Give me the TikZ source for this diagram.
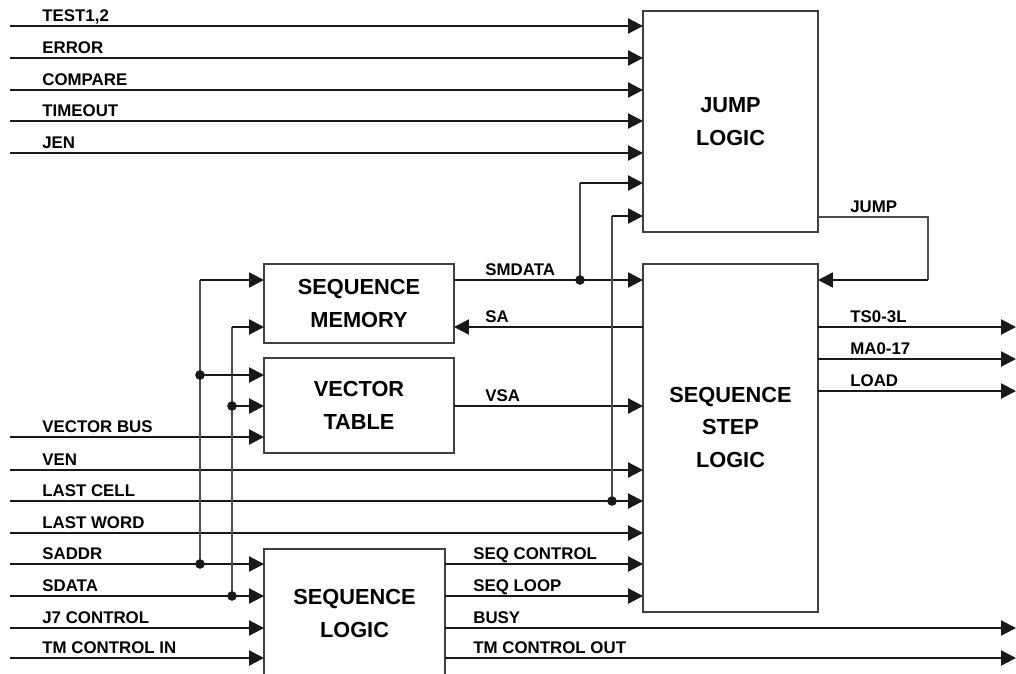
\documentclass[tikz,border=0pt]{standalone}
\usepackage{fontspec}
\setmainfont{Liberation Sans}
\usetikzlibrary{positioning, arrows.meta, calc}

\begin{document}
\begin{tikzpicture}[
        x=0.02cm, y=-0.02cm,
        >={Triangle[length=8.5pt, width=8.5pt]},
        sig/.style={line width=1.25pt, draw=black!90},
        bus/.style={line width=0.75pt, draw=black!70},
        box/.style={draw=black!75, line width=0.85pt, inner sep=0pt, outer sep=0pt,
            align=center, font=\bfseries\fontsize{12.4}{18.5}\selectfont},
        boxtxt/.style={align=center, inner sep=0pt, font=\bfseries\fontsize{12.4}{18.5}\selectfont},
        lbl/.style={anchor=base west, inner sep=0pt, font=\bfseries\fontsize{9.6}{10}\selectfont},
        dot/.style={circle, fill=black!90, inner sep=0pt, minimum size=5.5pt}
    ]
        \useasboundingbox (0,0) rectangle (1016,673);

        % blocks
        \node[box, minimum width=3.5cm, minimum height=4.42cm] (jump) at (730.5,121.5) {JUMP\\LOGIC};
        \node[box, minimum width=3.5cm, minimum height=6.96cm] (step) at (730.5,438) {};
        \node[boxtxt] (steptxt) at (730.5,427) {SEQUENCE\\STEP\\LOGIC};
        \node[box, minimum width=3.8cm, minimum height=1.58cm] (smem) at (359,303.5) {SEQUENCE\\MEMORY};
        \node[box, minimum width=3.8cm, minimum height=1.9cm] (vtab) at (359,405.5) {VECTOR\\TABLE};
        \node[box, minimum width=3.62cm, minimum height=2.58cm] (slog) at (354.5,613.5) {SEQUENCE\\LOGIC};

        % inputs from the left
        \foreach \y/\t [count=\i] in {26/{TEST1,2}, 58/ERROR, 90/COMPARE, 121/TIMEOUT, 153/JEN} {
            \coordinate (jin\i) at (10,\y);
            \draw[sig,->] (jin\i) -- (jin\i -| jump.west);
            \node[lbl] (ljin\i) at (42,\y-5) {\t};
        }
        \coordinate (vin) at (10,437);
        \draw[sig,->] (vin) -- (vin -| vtab.west);
        \node[lbl] (lvin) at (42,432) {VECTOR BUS};
        \foreach \y/\t [count=\i] in {470/VEN, 501/LAST CELL, 533/LAST WORD} {
            \coordinate (sin\i) at (10,\y);
            \draw[sig,->] (sin\i) -- (sin\i -| step.west);
            \node[lbl] (lsin\i) at (42,\y-5) {\t};
        }
        \foreach \y/\t [count=\i] in {564/SADDR, 596/SDATA, 628/J7 CONTROL, 658/TM CONTROL IN} {
            \coordinate (lin\i) at (10,\y);
            \draw[sig,->] (lin\i) -- (lin\i -| slog.west);
            \node[lbl] (llin\i) at (42,\y-5) {\t};
        }

        % SADDR / SDATA taps
        \coordinate (ba) at (200,280);
        \coordinate (bb) at (232,327);
        \coordinate (va) at (200,375);
        \coordinate (vb) at (232,406);
        \draw[bus] (ba) -- (ba |- lin1);
        \draw[bus] (bb) -- (bb |- lin2);
        \draw[sig,->] (ba) -- (ba -| smem.west);
        \draw[sig,->] (bb) -- (bb -| smem.west);
        \draw[sig,->] (va) -- (va -| vtab.west);
        \draw[sig,->] (vb) -- (vb -| vtab.west);

        % memory and table to step logic
        \coordinate (dsm) at (580,280);
        \coordinate (ysa) at (485,327);
        \coordinate (yvsa) at (485,406);
        \draw[sig,->] (smem.east |- dsm) -- (step.west |- dsm);
        \draw[sig,->] (step.west |- ysa) -- (smem.east |- ysa);
        \draw[sig,->] (vtab.east |- yvsa) -- (step.west |- yvsa);
        \node[lbl] (lsmd) at (485,275) {SMDATA};
        \node[lbl] (lsa) at (485,322) {SA};
        \node[lbl] (lvsa) at (485,401) {VSA};

        % back into jump logic
        \coordinate (jfa) at (580,183);
        \coordinate (jfb) at (612,216);
        \draw[bus] (dsm) -- (jfa);
        \draw[sig,->] (jfa) -- (jfa -| jump.west);
        \draw[bus] (jfb |- sin2) -- (jfb);
        \draw[sig,->] (jfb) -- (jfb -| jump.west);

        % jump
        \coordinate (jr) at (928,217);
        \draw[bus] (jump.east |- jr) -- (jr) -- (jr |- dsm);
        \draw[sig,->] (jr |- dsm) -- (step.east |- dsm);
        \node[lbl] (ljmp) at (850,212) {JUMP};

        % outputs
        \foreach \y/\t [count=\i] in {327/TS0-3L, 359/MA0-17, 391/LOAD} {
            \coordinate (sout\i) at (1016,\y);
            \draw[sig,->] (sout\i -| step.east) -- (sout\i);
            \node[lbl] (lsout\i) at (850,\y-5) {\t};
        }
        \foreach \y/\t [count=\i] in {564/SEQ CONTROL, 596/SEQ LOOP} {
            \coordinate (lout\i) at (473,\y);
            \draw[sig,->] (lout\i -| slog.east) -- (lout\i -| step.west);
            \node[lbl] (llout\i) at (473,\y-5) {\t};
        }
        \foreach \y/\t [count=\i] in {628/BUSY, 658/TM CONTROL OUT} {
            \coordinate (xout\i) at (1016,\y);
            \draw[sig,->] (xout\i -| slog.east) -- (xout\i);
            \node[lbl] (lxout\i) at (473,\y-5) {\t};
        }

        % junctions
        \node[dot] (d1) at (dsm) {};
        \node[dot] (d2) at (va) {};
        \node[dot] (d3) at (vb) {};
        \node[dot] (d4) at (ba |- lin1) {};
        \node[dot] (d5) at (bb |- lin2) {};
        \node[dot] (d6) at (jfb |- sin2) {};
    \end{tikzpicture}
\end{document}
